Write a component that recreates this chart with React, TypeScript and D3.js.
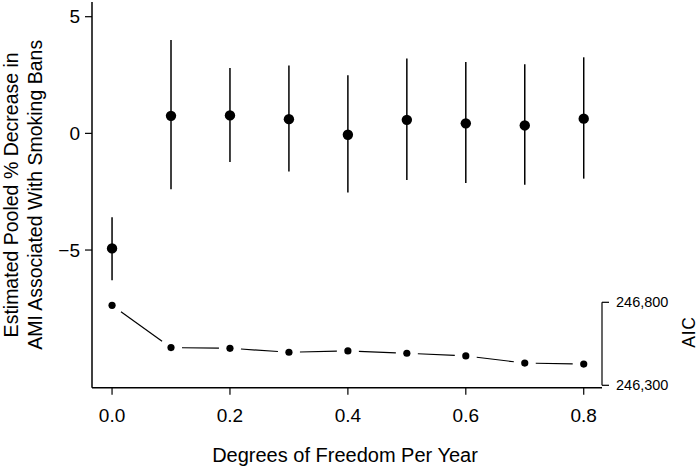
import * as d3 from 'd3';

// degrees of freedom per year
const dfs = [0, 0.1, 0.2, 0.3, 0.4, 0.5, 0.6, 0.7, 0.8];
// pooled % decrease with 95% CI
const estimates = [-4.93, 0.75, 0.77, 0.61, -0.06, 0.58, 0.43, 0.34, 0.63];
const lower = [-6.29, -2.39, -1.23, -1.63, -2.53, -2.0, -2.13, -2.2, -1.94];
const upper = [-3.59, 4.0, 2.8, 2.91, 2.49, 3.21, 3.06, 2.96, 3.26];
// model AIC
const aic = [246782, 246527, 246523, 246499, 246507, 246493, 246477, 246434, 246428];

const xTicks = [0, 0.2, 0.4, 0.6, 0.8];
const yTicks = [5, 0, -5];
const aicTicks = [246800, 246300];

const W = 699;
const H = 469;
const font = "'Liberation Sans', Arial, sans-serif";

export default function App() {
    const x = d3.scaleLinear().domain([-0.034, 0.831]).range([92, 602]);
    const y = d3.scaleLinear().domain([-10.9, 5.63]).range([387.7, 2]);
    const yAic = d3.scaleLinear().domain([246300, 246800]).range([385.3, 302.3]);

    const axisBottom = y.range()[0];
    const axisLeft = x.range()[0];
    const axisRight = x.range()[1];

    // type="b" style segments: leave a gap around each point
    const gap = 11;
    const segments = dfs.slice(1).map((d, i) => {
        const x1 = x(dfs[i]), y1 = yAic(aic[i]);
        const x2 = x(d), y2 = yAic(aic[i + 1]);
        const len = Math.hypot(x2 - x1, y2 - y1);
        const ux = (x2 - x1) / len, uy = (y2 - y1) / len;
        return { x1: x1 + ux * gap, y1: y1 + uy * gap, x2: x2 - ux * gap, y2: y2 - uy * gap };
    });

    const yMid = (y.range()[0] + y.range()[1]) / 2;

    return (
        <svg width={W} height={H} style={{ position: 'absolute', left: 0, top: 0, background: '#fff' }}
            fontFamily={font}>
            {/* axes lines */}
            <line x1={axisLeft} x2={axisLeft} y1={y.range()[1]} y2={axisBottom} stroke="#000" strokeWidth={1.5} />
            <line x1={axisLeft} x2={axisRight} y1={axisBottom} y2={axisBottom} stroke="#000" strokeWidth={1.5} />

            {/* left ticks */}
            {yTicks.map(t => (
                <g key={t}>
                    <line x1={axisLeft - 7} x2={axisLeft} y1={y(t)} y2={y(t)} stroke="#000" strokeWidth={1.2} />
                    <text x={axisLeft - 12} y={y(t)} dy="0.35em" textAnchor="end" fontSize={19}>
                        {t < 0 ? '\u2212' + Math.abs(t) : t}
                    </text>
                </g>
            ))}

            {/* bottom ticks */}
            {xTicks.map(t => (
                <g key={t}>
                    <line x1={x(t)} x2={x(t)} y1={axisBottom} y2={axisBottom + 7} stroke="#000" strokeWidth={1.2} />
                    <text x={x(t)} y={422} textAnchor="middle" fontSize={19}>{d3.format('.1f')(t)}</text>
                </g>
            ))}

            {/* AIC bracket axis */}
            <line x1={axisRight} x2={axisRight} y1={yAic(aicTicks[0])} y2={yAic(aicTicks[1])} stroke="#000" strokeWidth={1.2} />
            {aicTicks.map(t => (
                <g key={t}>
                    <line x1={axisRight} x2={axisRight + 7} y1={yAic(t)} y2={yAic(t)} stroke="#000" strokeWidth={1.2} />
                    <text x={616} y={yAic(t)} dy="0.35em" fontSize={14.5}>{d3.format(',')(t)}</text>
                </g>
            ))}
            <text transform={`translate(694.5,332) rotate(-90)`} textAnchor="middle" fontSize={17.5} letterSpacing={0.8}>AIC</text>

            {/* error bars and estimates */}
            {dfs.map((d, i) => (
                <g key={d}>
                    <line x1={x(d)} x2={x(d)} y1={y(lower[i])} y2={y(upper[i])} stroke="#000" strokeWidth={1.5} />
                    <circle cx={x(d)} cy={y(estimates[i])} r={5.2} fill="#000" />
                </g>
            ))}

            {/* AIC line */}
            {segments.map((s, i) => (
                <line key={i} x1={s.x1} y1={s.y1} x2={s.x2} y2={s.y2} stroke="#000" strokeWidth={1.2} />
            ))}
            {dfs.map((d, i) => (
                <circle key={d} cx={x(d)} cy={yAic(aic[i])} r={3.6} fill="#000" />
            ))}

            {/* axis titles */}
            <text x={(axisLeft + axisRight) / 2 - 2} y={462} textAnchor="middle" fontSize={20}>
                Degrees of Freedom Per Year
            </text>
            <text transform={`translate(17.5,${yMid}) rotate(-90)`} textAnchor="middle" fontSize={19.5}>
                Estimated Pooled % Decrease in
            </text>
            <text transform={`translate(42,${yMid}) rotate(-90)`} textAnchor="middle" fontSize={19.5}>
                AMI Associated With Smoking Bans
            </text>
        </svg>
    );
}
